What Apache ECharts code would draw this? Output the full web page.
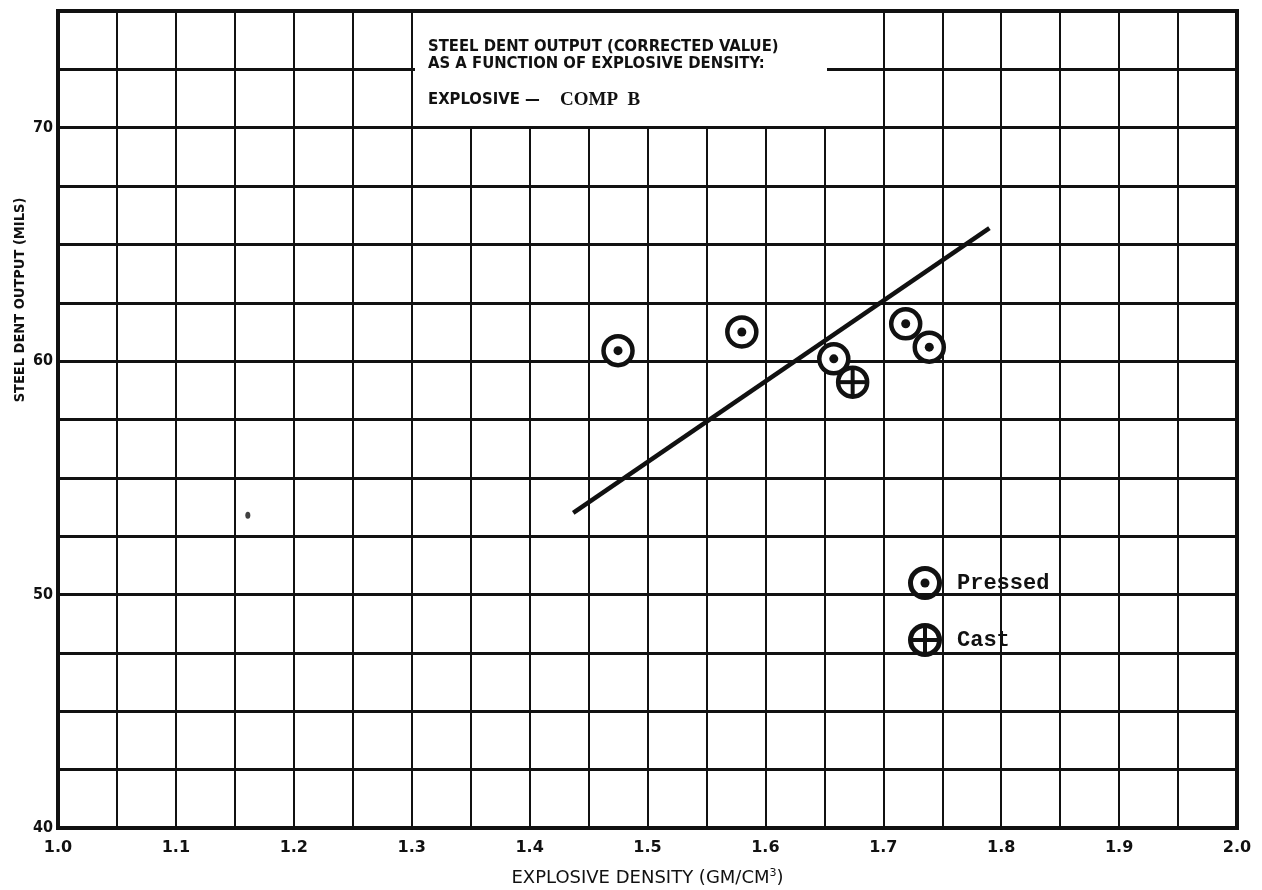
<!DOCTYPE html>
<html>
<head>
<meta charset="utf-8">
<script src="https://cdn.jsdelivr.net/npm/echarts@6/dist/echarts.min.js"></script>
<style>
  html, body { margin: 0; padding: 0; background: #ffffff; }
  #chart { width: 1262px; height: 890px; }
</style>
</head>
<body>
<div id="chart"></div>
<script>
// Steel dent output vs. explosive density, Comp B
const xTicks = [1.0, 1.1, 1.2, 1.3, 1.4, 1.5, 1.6, 1.7, 1.8, 1.9, 2.0];
const yTicks = [40, 50, 60, 70];

// pressed charges: [density, dent]
const pressedDensity = [1.475, 1.580, 1.658, 1.719, 1.739];
const pressedDent    = [60.45, 61.25, 60.1, 61.6, 60.6];

// cast charge
const castDensity = [1.674];
const castDent    = [59.1];

// stray point
const strayDensity = [1.161];
const strayDent    = [53.4];

// fitted line end points
const fitDensity = [1.437, 1.79];
const fitDent    = [53.5, 65.7];

const zip = (a, b) => a.map((v, i) => [v, b[i]]);

const INK = '#111111';
const sans = '"DejaVu Sans", "Liberation Sans", sans-serif';
const cond = '"DejaVu Sans Condensed", "DejaVu Sans", sans-serif';
const narrow = '"Liberation Sans Narrow", "DejaVu Sans Condensed", "Liberation Sans", sans-serif';
const mono = '"Liberation Mono", "DejaVu Sans Mono", monospace';

const chart = echarts.init(document.getElementById('chart'), null, { renderer: 'canvas' });

function ringItem(withCross) {
  return function (params, api) {
    const p = api.coord([api.value(0), api.value(1)]);
    const r = 14.5;
    const children = [
      { type: 'circle', shape: { cx: p[0], cy: p[1], r: r },
        style: { fill: '#ffffff', stroke: INK, lineWidth: 4.5 } }
    ];
    if (withCross) {
      children.push({ type: 'line', shape: { x1: p[0] - r, y1: p[1], x2: p[0] + r, y2: p[1] },
        style: { stroke: INK, lineWidth: 4 } });
      children.push({ type: 'line', shape: { x1: p[0], y1: p[1] - r, x2: p[0], y2: p[1] + r },
        style: { stroke: INK, lineWidth: 4 } });
    } else {
      children.push({ type: 'circle', shape: { cx: p[0], cy: p[1], r: 4.5 },
        style: { fill: INK } });
    }
    return { type: 'group', children: children };
  };
}

const option = {
  animation: false,
  backgroundColor: '#ffffff',
  grid: {
    left: 58, right: 25, top: 11, bottom: 62,
    outerBoundsMode: 'none', containLabel: false,
    show: true, borderColor: INK, borderWidth: 4, backgroundColor: 'transparent'
  },
  xAxis: {
    type: 'value', min: 1.0, max: 2.0, interval: 0.05,
    axisLine: { show: true, lineStyle: { color: INK, width: 4 } },
    axisTick: { show: false },
    axisLabel: {
      color: INK, fontFamily: sans, fontWeight: 'bold', fontSize: 16, margin: 12,
      formatter: function (v) {
        return xTicks.some(t => Math.abs(t - v) < 1e-6) ? v.toFixed(1) : '';
      }
    },
    splitLine: { show: true, lineStyle: { color: INK, width: 2 } },
    name: 'EXPLOSIVE DENSITY (GM/CM{sup|3})',
    nameLocation: 'middle', nameGap: 40,
    nameTextStyle: {
      color: INK, fontFamily: sans, fontSize: 18,
      rich: { sup: { fontFamily: sans, fontSize: 11, verticalAlign: 'top', padding: [0, 0, 10, 0], color: INK } }
    }
  },
  yAxis: {
    type: 'value', min: 40, max: 75, interval: 2.5,
    axisLine: { show: true, lineStyle: { color: INK, width: 4 } },
    axisTick: { show: false },
    axisLabel: {
      color: INK, fontFamily: cond, fontWeight: 'bold', fontSize: 16, margin: 5,
      formatter: function (v) {
        return yTicks.indexOf(v) >= 0 ? String(v) : '';
      }
    },
    splitLine: { show: true, lineStyle: { color: INK, width: 3 } }
  },
  graphic: [
    // title panel
    { type: 'rect', z: 10, shape: { x: 415, y: 13, width: 412, height: 113 },
      style: { fill: '#ffffff' } },
    { type: 'text', z: 11, x: 428, y: 47,
      style: { text: 'STEEL DENT OUTPUT (CORRECTED VALUE)', fill: INK, verticalAlign: 'middle',
        font: 'bold 16.5px ' + cond } },
    { type: 'text', z: 11, x: 428, y: 64,
      style: { text: 'AS A FUNCTION OF EXPLOSIVE DENSITY:', fill: INK, verticalAlign: 'middle',
        font: 'bold 16.5px ' + cond } },
    { type: 'text', z: 11, x: 428, y: 100,
      style: { text: 'EXPLOSIVE \u2014', fill: INK, verticalAlign: 'middle', font: 'bold 16.5px ' + cond } },
    { type: 'text', z: 11, x: 560, y: 100,
      style: { text: 'COMP  B', fill: INK, verticalAlign: 'middle', font: 'bold 19px "Liberation Serif", serif' } },
    // y axis title
    { type: 'text', z: 11, x: 20, y: 300, rotation: Math.PI / 2, originX: 0, originY: 0,
      style: { text: 'STEEL DENT OUTPUT (MILS)', fill: INK, align: 'center', verticalAlign: 'middle',
        font: 'bold 14.5px ' + narrow } },
    // key
    { type: 'group', z: 12, children: [
      { type: 'circle', shape: { cx: 925, cy: 583, r: 14.5 }, style: { fill: '#fff', stroke: INK, lineWidth: 5 } },
      { type: 'circle', shape: { cx: 925, cy: 583, r: 4.5 }, style: { fill: INK } },
      { type: 'text', x: 957, y: 583, style: { text: 'Pressed', fill: INK, verticalAlign: 'middle',
        font: 'bold 22px ' + mono } },
      { type: 'circle', shape: { cx: 925, cy: 640, r: 14.5 }, style: { fill: '#fff', stroke: INK, lineWidth: 5 } },
      { type: 'line', shape: { x1: 910.5, y1: 640, x2: 939.5, y2: 640 }, style: { stroke: INK, lineWidth: 4 } },
      { type: 'line', shape: { x1: 925, y1: 625.5, x2: 925, y2: 654.5 }, style: { stroke: INK, lineWidth: 4 } },
      { type: 'text', x: 957, y: 640, style: { text: 'Cast', fill: INK, verticalAlign: 'middle',
        font: 'bold 22px ' + mono } }
    ]}
  ],
  series: [
    {
      name: 'fit', type: 'line', data: zip(fitDensity, fitDent),
      symbol: 'none', z: 3,
      lineStyle: { color: INK, width: 4.5 }
    },
    {
      name: 'Pressed', type: 'custom', data: zip(pressedDensity, pressedDent),
      renderItem: ringItem(false), z: 5
    },
    {
      name: 'Cast', type: 'custom', data: zip(castDensity, castDent),
      renderItem: ringItem(true), z: 4
    },
    {
      name: 'stray', type: 'scatter', data: zip(strayDensity, strayDent),
      symbol: 'circle', symbolSize: [5, 7], itemStyle: { color: INK }
    }
  ]
};

chart.setOption(option);
</script>
</body>
</html>
